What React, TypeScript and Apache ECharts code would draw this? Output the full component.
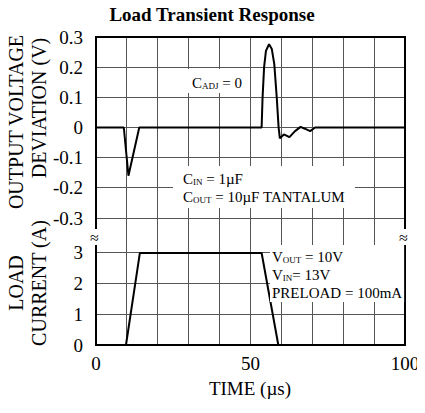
import React, { useEffect, useRef } from "react";
import * as echarts from "echarts";

const voltTime = [0, 9, 10.5, 14, 53.6, 53.9, 54.4, 55.0, 56.0, 56.9, 57.7, 58.5, 59.1, 59.5, 60.8, 62.6, 64.4, 66.2, 67.6, 69.3, 70.9, 100];
const voltValue = [0, 0, -0.16, 0, 0, 0.098, 0.2, 0.254, 0.276, 0.26, 0.21, 0.098, 0, -0.036, -0.023, -0.032, -0.012, 0.002, -0.004, -0.012, 0, 0];
const currTime = [0, 9.7, 14.2, 53.6, 59, 90.5];
const currValue = [0, 0, 3, 3, 0, 0];
const voltGridLevels = [-0.3, -0.2, -0.1, 0, 0.1, 0.2];
const currGridLevels = [1, 2, 3];
const timeGridLines = [10, 20, 30, 40, 50, 60, 70, 80, 90];
const currLabels = [0, 1, 2, 3];
const xTickLabels = [0, 50, 100];

const FONT = "'Liberation Serif', 'Times New Roman', serif";
const GRID_COLOR = "#555";
const T_MIN = 0, T_MAX = 100, V_MIN = -0.3, V_MAX = 0.3, C_MIN = 0, C_MAX = 4.14;

type Frame = { left?: boolean; right?: boolean; top?: boolean; bottom?: boolean };

function gridRects(chart: any, yMin: number, yMax: number, hLevels: number[], frame: Frame) {
  const px = (x: number, y: number) => chart.convertToPixel({ gridIndex: 0 }, [x, y]) as number[];
  const out: any[] = [];
  const rect = (x: number, y: number, w: number, h: number, fill: string) =>
    out.push({ type: "rect", silent: true, z: 0, shape: { x, y, width: w, height: h }, style: { fill } });
  const vLine = (t: number, w: number, fill: string) => {
    const a = px(t, yMin), b = px(t, yMax);
    const top = Math.min(a[1], b[1]), h = Math.abs(a[1] - b[1]);
    rect(Math.round(a[0] - w / 2), Math.round(top - (w > 1 ? 1 : 0)), w, Math.round(h + (w > 1 ? 2 : 0)), fill);
  };
  const hLine = (v: number, w: number, fill: string) => {
    const a = px(T_MIN, v), b = px(T_MAX, v);
    rect(Math.round(a[0] - (w > 1 ? 1 : 0)), Math.round(a[1] - w / 2), Math.round(b[0] - a[0] + (w > 1 ? 2 : 0)), w, fill);
  };
  timeGridLines.forEach((t) => vLine(t, 1, GRID_COLOR));
  hLevels.forEach((v) => hLine(v, 1, GRID_COLOR));
  if (frame.left) vLine(T_MIN, 2, "#000");
  if (frame.right) vLine(T_MAX, 2, "#000");
  if (frame.top) hLine(yMax, 2, "#000");
  if (frame.bottom) hLine(yMin, 2, "#000");
  return out;
}

function useChart(build: (chart: any) => void) {
  const ref = useRef<HTMLDivElement>(null);
  useEffect(() => {
    const chart = echarts.init(ref.current!, undefined, { renderer: "svg" });
    build(chart);
    return () => chart.dispose();
  }, []);
  return ref;
}

const layer: React.CSSProperties = { position: "absolute", left: 0, top: 0, width: 425, height: 413 };
const txt = { fontFamily: FONT, fontSize: 19, color: "#000" };
const noSplit = { show: false };

function buildVoltage(chart: any) {
  chart.setOption({
    animation: false,
    backgroundColor: "transparent",
    textStyle: { fontFamily: FONT },
    grid: { left: 96, right: 20, top: 37, height: 181, outerBoundsMode: "none", show: false },
    xAxis: {
      type: "value", min: T_MIN, max: T_MAX, interval: 10,
      axisLine: { show: false }, axisTick: { show: false }, axisLabel: { show: false },
      splitLine: noSplit,
    },
    yAxis: {
      type: "value", min: V_MIN, max: V_MAX, interval: 0.1,
      axisLine: { show: false }, axisTick: { show: false },
      axisLabel: { ...txt, margin: 13, formatter: (v: number) => (Math.abs(v) < 1e-9 ? "0" : v.toFixed(1)) },
      splitLine: noSplit,
    },
    series: [
      {
        type: "line", z: 5, data: voltTime.map((t, i) => [t, voltValue[i]]),
        showSymbol: false, lineStyle: { color: "#000", width: 2 },
      },
    ],
  });
  chart.setOption({
    graphic: gridRects(chart, V_MIN, V_MAX, voltGridLevels, { left: true, right: true, top: true }),
  });
}

function buildCurrent(chart: any) {
  chart.setOption({
    animation: false,
    backgroundColor: "transparent",
    textStyle: { fontFamily: FONT },
    grid: { left: 96, right: 20, top: 218, height: 127, outerBoundsMode: "none", show: false },
    xAxis: {
      type: "value", min: T_MIN, max: T_MAX, interval: 10,
      axisLine: { show: false }, axisTick: { show: false },
      axisLabel: { ...txt, margin: 9, formatter: (v: number) => (xTickLabels.includes(v) ? String(v) : " ") },
      splitLine: noSplit,
    },
    yAxis: {
      type: "value", min: C_MIN, max: C_MAX, interval: 1,
      axisLine: { show: false }, axisTick: { show: false },
      axisLabel: { ...txt, margin: 13, formatter: (v: number) => (currLabels.includes(v) ? String(v) : " ") },
      splitLine: noSplit,
    },
    series: [
      {
        type: "line", z: 5, data: currTime.map((t, i) => [t, currValue[i]]),
        showSymbol: false, lineStyle: { color: "#000", width: 2 },
      },
    ],
  });
  chart.setOption({
    graphic: gridRects(chart, C_MIN, C_MAX, currGridLevels, { left: true, right: true, bottom: true }),
  });
}

function buildOverlay(chart: any) {
  const rich = {
    n: { fontFamily: FONT, fontSize: 15, color: "#000", lineHeight: 18, verticalAlign: "bottom" },
    s: { fontFamily: FONT, fontSize: 9, color: "#000", lineHeight: 14, verticalAlign: "bottom" },
  };
  const label = (text: string, x: number, y: number, size: number, rot = 0, weight = "normal") => ({
    type: "text", x, y, rotation: rot,
    style: {
      text, fill: "#000", fontFamily: FONT, fontSize: size, fontWeight: weight,
      align: "center", verticalAlign: "middle", textAlign: "center", textVerticalAlign: "middle",
    },
  });
  const note = (text: string, left: number, top: number, padding: number[]) => ({
    type: "text", left, top,
    style: { text, rich, backgroundColor: "#fff", padding },
  });
  const brk = (left: number, top: number) => ({
    type: "text", left, top,
    style: { text: "≈", fontFamily: FONT, fontSize: 16, fill: "#000", backgroundColor: "#fff" },
  });
  const R = Math.PI / 2;
  chart.setOption({
    animation: false,
    backgroundColor: "transparent",
    graphic: [
      label("Load Transient Response", 212, 14, 19, 0, "bold"),
      label("OUTPUT VOLTAGE", 16, 122, 20, R),
      label("DEVIATION (V)", 39, 108, 20, R),
      label("LOAD", 16, 283, 20, R),
      label("CURRENT (A)", 39, 283, 20, R),
      label("TIME (µs)", 250, 388, 19),
      note("{n|C}{s|ADJ}{n| = 0}", 188, 69, [3, 4, 3, 4]),
      note("{n|C}{s|IN}{n| = 1µF}\n{n|C}{s|OUT}{n| = 10µF TANTALUM}", 173, 166, [2, 10, 4, 10]),
      note("{n|V}{s|OUT}{n| = 10V}\n{n|V}{s|IN}{n|= 13V}\n{n|PRELOAD = 100mA}", 270, 245, [1, 2, 2, 2]),
      brk(90, 229),
      brk(399, 229),
    ],
  });
}

export default function App() {
  const topRef = useChart(buildVoltage);
  const botRef = useChart(buildCurrent);
  const ovRef = useChart(buildOverlay);
  return (
    <div style={{ position: "relative", width: 425, height: 413, margin: -8 }}>
      <div ref={topRef} style={layer} />
      <div ref={botRef} style={layer} />
      <div ref={ovRef} style={layer} />
    </div>
  );
}
